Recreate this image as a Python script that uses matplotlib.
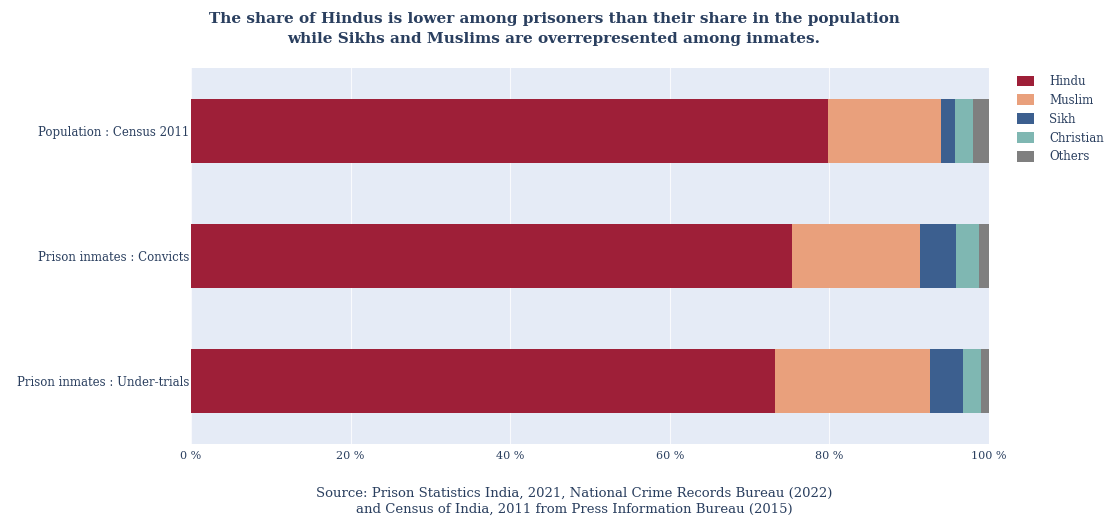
import numpy as np
import matplotlib.pyplot as plt

plt.rcParams['font.family'] = ['DejaVu Serif']

groups = ['Population : Census 2011', 'Prison inmates : Convicts', 'Prison inmates : Under-trials']
religions = ['Hindu', 'Muslim', 'Sikh', 'Christian', 'Others']
hindu = [79.8, 75.3, 73.2]
muslim = [14.2, 16.1, 19.4]
sikh = [1.7, 4.5, 4.2]
christian = [2.3, 2.9, 2.2]
others = [2.0, 1.2, 1.0]
colors = ['#9e1f38', '#e9a07c', '#3c5f8f', '#7fb7b2', '#7f7f7f']
ticks = [0, 20, 40, 60, 80, 100]

txt = '#2a3f5f'

fig = plt.figure(figsize=(11.08, 5.17), dpi=100)
ax = fig.add_axes([0.1724, 0.1412, 0.7202, 0.7273])
ax.set_facecolor('#e5ebf6')

y = np.arange(len(groups))
left = np.zeros(len(groups))
for name, vals, c in zip(religions, [hindu, muslim, sikh, christian, others], colors):
    ax.barh(y, vals, left=left, height=0.51, color=c, label=name)
    left += np.array(vals)

ax.set_xlim(0, 100)
ax.set_ylim(2.5, -0.5)
ax.set_xticks(ticks)
ax.set_xticklabels([f'{t} %' for t in ticks], fontsize=8, color=txt)
ax.set_yticks(y)
ax.set_yticklabels(groups, fontsize=8.5, color=txt)
ax.tick_params(axis='y', length=0, pad=1)
ax.tick_params(axis='x', length=0, pad=5)
ax.grid(axis='x', color='white', linewidth=0.8, alpha=0.8)
ax.set_axisbelow(True)
for s in ax.spines.values():
    s.set_visible(False)

ax.legend(loc='upper left', bbox_to_anchor=(1.022, 1.01), frameon=False, fontsize=8.5,
          handlelength=1.4, handleheight=1.0, labelspacing=0.5, handletextpad=1.3,
          labelcolor=txt)

fig.text(0.5, 0.944, 'The share of Hindus is lower among prisoners than their share in the population\n'
         'while Sikhs and Muslims are overrepresented among inmates.',
         ha='center', va='center', fontsize=11, color=txt, linespacing=1.6,
         fontweight='semibold')
fig.text(0.518, 0.03, 'Source: Prison Statistics India, 2021, National Crime Records Bureau (2022)\n'
         'and Census of India, 2011 from Press Information Bureau (2015)',
         ha='center', va='center', fontsize=9.5, color=txt, linespacing=1.3)

plt.savefig('out.png', dpi=100)
plt.close()
